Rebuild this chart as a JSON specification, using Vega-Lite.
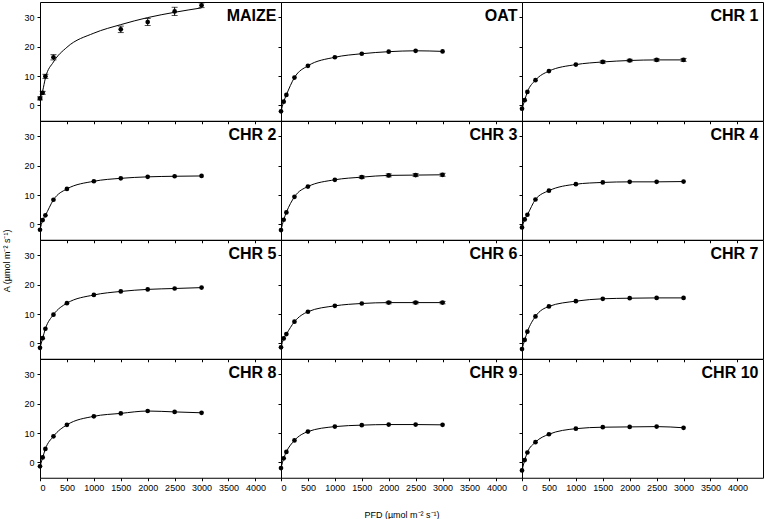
{
  "$schema": "https://vega.github.io/schema/vega-lite/v6.json",
  "padding": {"left": 3, "top": 1, "right": 0, "bottom": 0},
  "bounds": "flush",
  "spacing": 0,
  "columns": 3,
  "title": {"text": "A (µmol m⁻² s⁻¹)", "orient": "left", "anchor": "middle", "fontSize": 9, "fontWeight": "normal", "font": "Liberation Sans", "color": "black", "offset": 11},
  "datasets": {
    "d": [
      {"p": "MAIZE", "x": 0, "A": 2.4, "f": 2.0, "lo": 1.9, "hi": 2.9},
      {"p": "MAIZE", "x": 50, "A": 4.3, "f": 5.0, "lo": 3.8, "hi": 4.8},
      {"p": "MAIZE", "x": 100, "A": 9.9, "f": 9.3, "lo": 9.2, "hi": 10.6},
      {"p": "MAIZE", "x": 250, "A": 16.4, "f": 14.8, "lo": 15.5, "hi": 17.3},
      {"p": "MAIZE", "x": 500, "A": null, "f": 19.8},
      {"p": "MAIZE", "x": 1000, "A": null, "f": 24.6},
      {"p": "MAIZE", "x": 1500, "A": 25.9, "f": 27.5, "lo": 24.8, "hi": 27.0},
      {"p": "MAIZE", "x": 2000, "A": 28.4, "f": 29.9, "lo": 27.2, "hi": 29.6},
      {"p": "MAIZE", "x": 2500, "A": 32.0, "f": 31.7, "lo": 30.6, "hi": 33.4},
      {"p": "MAIZE", "x": 3000, "A": 34.1, "f": 33.2, "lo": 33.3, "hi": 34.9},

      {"p": "OAT", "x": 0, "A": -2.0}, {"p": "OAT", "x": 50, "A": 1.3}, {"p": "OAT", "x": 100, "A": 3.6},
      {"p": "OAT", "x": 250, "A": 9.5}, {"p": "OAT", "x": 500, "A": 13.5}, {"p": "OAT", "x": 1000, "A": 16.4},
      {"p": "OAT", "x": 1500, "A": 17.6}, {"p": "OAT", "x": 2000, "A": 18.3}, {"p": "OAT", "x": 2500, "A": 18.6},
      {"p": "OAT", "x": 3000, "A": 18.4},

      {"p": "CHR 1", "x": 0, "A": -1.1}, {"p": "CHR 1", "x": 50, "A": 1.8}, {"p": "CHR 1", "x": 100, "A": 4.6},
      {"p": "CHR 1", "x": 250, "A": 8.6}, {"p": "CHR 1", "x": 500, "A": 11.7}, {"p": "CHR 1", "x": 1000, "A": 13.9},
      {"p": "CHR 1", "x": 1500, "A": 14.8, "lo": 14.4, "hi": 15.2}, {"p": "CHR 1", "x": 2000, "A": 15.3, "lo": 14.9, "hi": 15.7},
      {"p": "CHR 1", "x": 2500, "A": 15.5, "lo": 15.1, "hi": 15.9}, {"p": "CHR 1", "x": 3000, "A": 15.5, "lo": 15.0, "hi": 16.0},

      {"p": "CHR 2", "x": 0, "A": -1.8}, {"p": "CHR 2", "x": 50, "A": 1.5}, {"p": "CHR 2", "x": 100, "A": 3.1},
      {"p": "CHR 2", "x": 250, "A": 8.4}, {"p": "CHR 2", "x": 500, "A": 12.1}, {"p": "CHR 2", "x": 1000, "A": 14.7},
      {"p": "CHR 2", "x": 1500, "A": 15.7}, {"p": "CHR 2", "x": 2000, "A": 16.2}, {"p": "CHR 2", "x": 2500, "A": 16.4},
      {"p": "CHR 2", "x": 3000, "A": 16.5},

      {"p": "CHR 3", "x": 0, "A": -1.9}, {"p": "CHR 3", "x": 50, "A": 1.6}, {"p": "CHR 3", "x": 100, "A": 4.1},
      {"p": "CHR 3", "x": 250, "A": 9.4}, {"p": "CHR 3", "x": 500, "A": 12.9}, {"p": "CHR 3", "x": 1000, "A": 15.2},
      {"p": "CHR 3", "x": 1500, "A": 16.1, "lo": 15.7, "hi": 16.5}, {"p": "CHR 3", "x": 2000, "A": 16.7, "lo": 16.2, "hi": 17.2},
      {"p": "CHR 3", "x": 2500, "A": 16.8, "lo": 16.3, "hi": 17.3}, {"p": "CHR 3", "x": 3000, "A": 16.9, "lo": 16.4, "hi": 17.4},

      {"p": "CHR 4", "x": 0, "A": -1.0}, {"p": "CHR 4", "x": 50, "A": 1.7}, {"p": "CHR 4", "x": 100, "A": 3.3},
      {"p": "CHR 4", "x": 250, "A": 8.5}, {"p": "CHR 4", "x": 500, "A": 11.5}, {"p": "CHR 4", "x": 1000, "A": 13.7},
      {"p": "CHR 4", "x": 1500, "A": 14.3}, {"p": "CHR 4", "x": 2000, "A": 14.5}, {"p": "CHR 4", "x": 2500, "A": 14.5},
      {"p": "CHR 4", "x": 3000, "A": 14.6},

      {"p": "CHR 5", "x": 0, "A": -1.5}, {"p": "CHR 5", "x": 50, "A": 1.8}, {"p": "CHR 5", "x": 100, "A": 5.0},
      {"p": "CHR 5", "x": 250, "A": 9.8}, {"p": "CHR 5", "x": 500, "A": 13.7}, {"p": "CHR 5", "x": 1000, "A": 16.5},
      {"p": "CHR 5", "x": 1500, "A": 17.7}, {"p": "CHR 5", "x": 2000, "A": 18.4}, {"p": "CHR 5", "x": 2500, "A": 18.7},
      {"p": "CHR 5", "x": 3000, "A": 19.0},

      {"p": "CHR 6", "x": 0, "A": -1.3}, {"p": "CHR 6", "x": 50, "A": 1.7}, {"p": "CHR 6", "x": 100, "A": 3.2},
      {"p": "CHR 6", "x": 250, "A": 7.4}, {"p": "CHR 6", "x": 500, "A": 10.8}, {"p": "CHR 6", "x": 1000, "A": 12.8},
      {"p": "CHR 6", "x": 1500, "A": 13.6}, {"p": "CHR 6", "x": 2000, "A": 13.9, "lo": 13.5, "hi": 14.3},
      {"p": "CHR 6", "x": 2500, "A": 13.9, "lo": 13.5, "hi": 14.3}, {"p": "CHR 6", "x": 3000, "A": 13.9, "lo": 13.5, "hi": 14.3},

      {"p": "CHR 7", "x": 0, "A": -1.9}, {"p": "CHR 7", "x": 50, "A": 1.2}, {"p": "CHR 7", "x": 100, "A": 4.0},
      {"p": "CHR 7", "x": 250, "A": 9.2}, {"p": "CHR 7", "x": 500, "A": 12.6}, {"p": "CHR 7", "x": 1000, "A": 14.4},
      {"p": "CHR 7", "x": 1500, "A": 15.2}, {"p": "CHR 7", "x": 2000, "A": 15.4}, {"p": "CHR 7", "x": 2500, "A": 15.5},
      {"p": "CHR 7", "x": 3000, "A": 15.5},

      {"p": "CHR 8", "x": 0, "A": -1.3}, {"p": "CHR 8", "x": 50, "A": 1.7}, {"p": "CHR 8", "x": 100, "A": 4.6},
      {"p": "CHR 8", "x": 250, "A": 8.9}, {"p": "CHR 8", "x": 500, "A": 12.8}, {"p": "CHR 8", "x": 1000, "A": 15.7},
      {"p": "CHR 8", "x": 1500, "A": 16.7}, {"p": "CHR 8", "x": 2000, "A": 17.5}, {"p": "CHR 8", "x": 2500, "A": 17.2},
      {"p": "CHR 8", "x": 3000, "A": 16.9},

      {"p": "CHR 9", "x": 0, "A": -1.9}, {"p": "CHR 9", "x": 50, "A": 1.4}, {"p": "CHR 9", "x": 100, "A": 3.6},
      {"p": "CHR 9", "x": 250, "A": 7.5}, {"p": "CHR 9", "x": 500, "A": 10.5}, {"p": "CHR 9", "x": 1000, "A": 12.2},
      {"p": "CHR 9", "x": 1500, "A": 12.7}, {"p": "CHR 9", "x": 2000, "A": 12.9}, {"p": "CHR 9", "x": 2500, "A": 12.9},
      {"p": "CHR 9", "x": 3000, "A": 12.8},

      {"p": "CHR 10", "x": 0, "A": -2.7}, {"p": "CHR 10", "x": 50, "A": 0.8}, {"p": "CHR 10", "x": 100, "A": 3.4},
      {"p": "CHR 10", "x": 250, "A": 6.9}, {"p": "CHR 10", "x": 500, "A": 9.6}, {"p": "CHR 10", "x": 1000, "A": 11.5},
      {"p": "CHR 10", "x": 1500, "A": 12.0}, {"p": "CHR 10", "x": 2000, "A": 12.1}, {"p": "CHR 10", "x": 2500, "A": 12.2},
      {"p": "CHR 10", "x": 3000, "A": 11.8}
    ]
  },
  "data": {"name": "d"},
  "concat": [
      {"width": 241, "height": 118.75, "transform": [{"filter": "datum.p == 'MAIZE'"}],
       "encoding": {"x": {"field": "x", "type": "quantitative", "scale": {"domain": [0, 4475], "nice": false}, "axis": {"values": [0,500,1000,1500,2000,2500,3000,3500,4000], "labels": false, "title": null}},
                    "y": {"field": "A", "type": "quantitative", "scale": {"domain": [-5.2, 35.2], "nice": false}, "axis": {"values": [0,10,20,30], "labels": true, "title": null}}},
       "layer": [
         {"mark": {"type": "line", "color": "black", "strokeWidth": 1, "interpolate": "monotone"}, "encoding": {"y": {"field": "f", "type": "quantitative"}}},
         {"transform": [{"filter": "isValid(datum.lo)"}], "mark": {"type": "rule", "color": "black", "strokeWidth": 1}, "encoding": {"y": {"field": "lo", "type": "quantitative"}, "y2": {"field": "hi"}}},
         {"transform": [{"filter": "isValid(datum.lo)"}], "mark": {"type": "tick", "orient": "horizontal", "color": "black", "size": 6, "thickness": 1}, "encoding": {"y": {"field": "lo", "type": "quantitative"}}},
         {"transform": [{"filter": "isValid(datum.lo)"}], "mark": {"type": "tick", "orient": "horizontal", "color": "black", "size": 6, "thickness": 1}, "encoding": {"y": {"field": "hi", "type": "quantitative"}}},
         {"mark": {"type": "point", "filled": true, "color": "black", "size": 22, "opacity": 1}},
         {"transform": [{"filter": "datum.x == 0"}], "mark": {"type": "text", "align": "right", "baseline": "middle", "fontWeight": "bold", "fontSize": 16, "font": "Liberation Sans", "color": "black"}, "encoding": {"x": {"datum": 4390}, "y": {"datum": 30.3}, "text": {"field": "p"}}}
       ]},
      {"width": 241, "height": 118.75, "transform": [{"filter": "datum.p == 'OAT'"}],
       "encoding": {"x": {"field": "x", "type": "quantitative", "scale": {"domain": [0, 4475], "nice": false}, "axis": {"values": [0,500,1000,1500,2000,2500,3000,3500,4000], "labels": false, "title": null}},
                    "y": {"field": "A", "type": "quantitative", "scale": {"domain": [-5.2, 35.2], "nice": false}, "axis": {"values": [0,10,20,30], "labels": false, "title": null}}},
       "layer": [
         {"mark": {"type": "line", "color": "black", "strokeWidth": 1, "interpolate": "monotone"}},
         {"mark": {"type": "point", "filled": true, "color": "black", "size": 22, "opacity": 1}},
         {"transform": [{"filter": "datum.x == 0"}], "mark": {"type": "text", "align": "right", "baseline": "middle", "fontWeight": "bold", "fontSize": 16, "font": "Liberation Sans", "color": "black"}, "encoding": {"x": {"datum": 4390}, "y": {"datum": 30.3}, "text": {"field": "p"}}}
       ]},
      {"width": 241, "height": 118.75, "transform": [{"filter": "datum.p == 'CHR 1'"}],
       "encoding": {"x": {"field": "x", "type": "quantitative", "scale": {"domain": [0, 4475], "nice": false}, "axis": {"values": [0,500,1000,1500,2000,2500,3000,3500,4000], "labels": false, "title": null}},
                    "y": {"field": "A", "type": "quantitative", "scale": {"domain": [-5.2, 35.2], "nice": false}, "axis": {"values": [0,10,20,30], "labels": false, "title": null}}},
       "layer": [
         {"mark": {"type": "line", "color": "black", "strokeWidth": 1, "interpolate": "monotone"}},
         {"transform": [{"filter": "isValid(datum.lo)"}], "mark": {"type": "rule", "color": "black", "strokeWidth": 1}, "encoding": {"y": {"field": "lo", "type": "quantitative"}, "y2": {"field": "hi"}}},
         {"transform": [{"filter": "isValid(datum.lo)"}], "mark": {"type": "tick", "orient": "horizontal", "color": "black", "size": 6, "thickness": 1}, "encoding": {"y": {"field": "lo", "type": "quantitative"}}},
         {"transform": [{"filter": "isValid(datum.lo)"}], "mark": {"type": "tick", "orient": "horizontal", "color": "black", "size": 6, "thickness": 1}, "encoding": {"y": {"field": "hi", "type": "quantitative"}}},
         {"mark": {"type": "point", "filled": true, "color": "black", "size": 22, "opacity": 1}},
         {"transform": [{"filter": "datum.x == 0"}], "mark": {"type": "text", "align": "right", "baseline": "middle", "fontWeight": "bold", "fontSize": 16, "font": "Liberation Sans", "color": "black"}, "encoding": {"x": {"datum": 4390}, "y": {"datum": 30.3}, "text": {"field": "p"}}}
       ]},
      {"width": 241, "height": 118.75, "transform": [{"filter": "datum.p == 'CHR 2'"}],
       "encoding": {"x": {"field": "x", "type": "quantitative", "scale": {"domain": [0, 4475], "nice": false}, "axis": {"values": [0,500,1000,1500,2000,2500,3000,3500,4000], "labels": false, "title": null}},
                    "y": {"field": "A", "type": "quantitative", "scale": {"domain": [-5.2, 35.2], "nice": false}, "axis": {"values": [0,10,20,30], "labels": true, "title": null}}},
       "layer": [
         {"mark": {"type": "line", "color": "black", "strokeWidth": 1, "interpolate": "monotone"}},
         {"mark": {"type": "point", "filled": true, "color": "black", "size": 22, "opacity": 1}},
         {"transform": [{"filter": "datum.x == 0"}], "mark": {"type": "text", "align": "right", "baseline": "middle", "fontWeight": "bold", "fontSize": 16, "font": "Liberation Sans", "color": "black"}, "encoding": {"x": {"datum": 4390}, "y": {"datum": 30.3}, "text": {"field": "p"}}}
       ]},
      {"width": 241, "height": 118.75, "transform": [{"filter": "datum.p == 'CHR 3'"}],
       "encoding": {"x": {"field": "x", "type": "quantitative", "scale": {"domain": [0, 4475], "nice": false}, "axis": {"values": [0,500,1000,1500,2000,2500,3000,3500,4000], "labels": false, "title": null}},
                    "y": {"field": "A", "type": "quantitative", "scale": {"domain": [-5.2, 35.2], "nice": false}, "axis": {"values": [0,10,20,30], "labels": false, "title": null}}},
       "layer": [
         {"mark": {"type": "line", "color": "black", "strokeWidth": 1, "interpolate": "monotone"}},
         {"transform": [{"filter": "isValid(datum.lo)"}], "mark": {"type": "rule", "color": "black", "strokeWidth": 1}, "encoding": {"y": {"field": "lo", "type": "quantitative"}, "y2": {"field": "hi"}}},
         {"transform": [{"filter": "isValid(datum.lo)"}], "mark": {"type": "tick", "orient": "horizontal", "color": "black", "size": 6, "thickness": 1}, "encoding": {"y": {"field": "lo", "type": "quantitative"}}},
         {"transform": [{"filter": "isValid(datum.lo)"}], "mark": {"type": "tick", "orient": "horizontal", "color": "black", "size": 6, "thickness": 1}, "encoding": {"y": {"field": "hi", "type": "quantitative"}}},
         {"mark": {"type": "point", "filled": true, "color": "black", "size": 22, "opacity": 1}},
         {"transform": [{"filter": "datum.x == 0"}], "mark": {"type": "text", "align": "right", "baseline": "middle", "fontWeight": "bold", "fontSize": 16, "font": "Liberation Sans", "color": "black"}, "encoding": {"x": {"datum": 4390}, "y": {"datum": 30.3}, "text": {"field": "p"}}}
       ]},
      {"width": 241, "height": 118.75, "transform": [{"filter": "datum.p == 'CHR 4'"}],
       "encoding": {"x": {"field": "x", "type": "quantitative", "scale": {"domain": [0, 4475], "nice": false}, "axis": {"values": [0,500,1000,1500,2000,2500,3000,3500,4000], "labels": false, "title": null}},
                    "y": {"field": "A", "type": "quantitative", "scale": {"domain": [-5.2, 35.2], "nice": false}, "axis": {"values": [0,10,20,30], "labels": false, "title": null}}},
       "layer": [
         {"mark": {"type": "line", "color": "black", "strokeWidth": 1, "interpolate": "monotone"}},
         {"mark": {"type": "point", "filled": true, "color": "black", "size": 22, "opacity": 1}},
         {"transform": [{"filter": "datum.x == 0"}], "mark": {"type": "text", "align": "right", "baseline": "middle", "fontWeight": "bold", "fontSize": 16, "font": "Liberation Sans", "color": "black"}, "encoding": {"x": {"datum": 4390}, "y": {"datum": 30.3}, "text": {"field": "p"}}}
       ]},
      {"width": 241, "height": 118.75, "transform": [{"filter": "datum.p == 'CHR 5'"}],
       "encoding": {"x": {"field": "x", "type": "quantitative", "scale": {"domain": [0, 4475], "nice": false}, "axis": {"values": [0,500,1000,1500,2000,2500,3000,3500,4000], "labels": false, "title": null}},
                    "y": {"field": "A", "type": "quantitative", "scale": {"domain": [-5.2, 35.2], "nice": false}, "axis": {"values": [0,10,20,30], "labels": true, "title": null}}},
       "layer": [
         {"mark": {"type": "line", "color": "black", "strokeWidth": 1, "interpolate": "monotone"}},
         {"mark": {"type": "point", "filled": true, "color": "black", "size": 22, "opacity": 1}},
         {"transform": [{"filter": "datum.x == 0"}], "mark": {"type": "text", "align": "right", "baseline": "middle", "fontWeight": "bold", "fontSize": 16, "font": "Liberation Sans", "color": "black"}, "encoding": {"x": {"datum": 4390}, "y": {"datum": 30.3}, "text": {"field": "p"}}}
       ]},
      {"width": 241, "height": 118.75, "transform": [{"filter": "datum.p == 'CHR 6'"}],
       "encoding": {"x": {"field": "x", "type": "quantitative", "scale": {"domain": [0, 4475], "nice": false}, "axis": {"values": [0,500,1000,1500,2000,2500,3000,3500,4000], "labels": false, "title": null}},
                    "y": {"field": "A", "type": "quantitative", "scale": {"domain": [-5.2, 35.2], "nice": false}, "axis": {"values": [0,10,20,30], "labels": false, "title": null}}},
       "layer": [
         {"mark": {"type": "line", "color": "black", "strokeWidth": 1, "interpolate": "monotone"}},
         {"transform": [{"filter": "isValid(datum.lo)"}], "mark": {"type": "rule", "color": "black", "strokeWidth": 1}, "encoding": {"y": {"field": "lo", "type": "quantitative"}, "y2": {"field": "hi"}}},
         {"transform": [{"filter": "isValid(datum.lo)"}], "mark": {"type": "tick", "orient": "horizontal", "color": "black", "size": 6, "thickness": 1}, "encoding": {"y": {"field": "lo", "type": "quantitative"}}},
         {"transform": [{"filter": "isValid(datum.lo)"}], "mark": {"type": "tick", "orient": "horizontal", "color": "black", "size": 6, "thickness": 1}, "encoding": {"y": {"field": "hi", "type": "quantitative"}}},
         {"mark": {"type": "point", "filled": true, "color": "black", "size": 22, "opacity": 1}},
         {"transform": [{"filter": "datum.x == 0"}], "mark": {"type": "text", "align": "right", "baseline": "middle", "fontWeight": "bold", "fontSize": 16, "font": "Liberation Sans", "color": "black"}, "encoding": {"x": {"datum": 4390}, "y": {"datum": 30.3}, "text": {"field": "p"}}}
       ]},
      {"width": 241, "height": 118.75, "transform": [{"filter": "datum.p == 'CHR 7'"}],
       "encoding": {"x": {"field": "x", "type": "quantitative", "scale": {"domain": [0, 4475], "nice": false}, "axis": {"values": [0,500,1000,1500,2000,2500,3000,3500,4000], "labels": false, "title": null}},
                    "y": {"field": "A", "type": "quantitative", "scale": {"domain": [-5.2, 35.2], "nice": false}, "axis": {"values": [0,10,20,30], "labels": false, "title": null}}},
       "layer": [
         {"mark": {"type": "line", "color": "black", "strokeWidth": 1, "interpolate": "monotone"}},
         {"mark": {"type": "point", "filled": true, "color": "black", "size": 22, "opacity": 1}},
         {"transform": [{"filter": "datum.x == 0"}], "mark": {"type": "text", "align": "right", "baseline": "middle", "fontWeight": "bold", "fontSize": 16, "font": "Liberation Sans", "color": "black"}, "encoding": {"x": {"datum": 4390}, "y": {"datum": 30.3}, "text": {"field": "p"}}}
       ]},
      {"width": 241, "height": 118.75, "transform": [{"filter": "datum.p == 'CHR 8'"}],
       "encoding": {"x": {"field": "x", "type": "quantitative", "scale": {"domain": [0, 4475], "nice": false}, "axis": {"values": [0,500,1000,1500,2000,2500,3000,3500,4000], "labels": true, "title": null}},
                    "y": {"field": "A", "type": "quantitative", "scale": {"domain": [-5.2, 35.2], "nice": false}, "axis": {"values": [0,10,20,30], "labels": true, "title": null}}},
       "layer": [
         {"mark": {"type": "line", "color": "black", "strokeWidth": 1, "interpolate": "monotone"}},
         {"mark": {"type": "point", "filled": true, "color": "black", "size": 22, "opacity": 1}},
         {"transform": [{"filter": "datum.x == 0"}], "mark": {"type": "text", "align": "right", "baseline": "middle", "fontWeight": "bold", "fontSize": 16, "font": "Liberation Sans", "color": "black"}, "encoding": {"x": {"datum": 4390}, "y": {"datum": 30.3}, "text": {"field": "p"}}}
       ]},
      {"width": 241, "height": 118.75, "transform": [{"filter": "datum.p == 'CHR 9'"}],
       "encoding": {"x": {"field": "x", "type": "quantitative", "scale": {"domain": [0, 4475], "nice": false}, "axis": {"values": [0,500,1000,1500,2000,2500,3000,3500,4000], "labels": true, "title": "PFD (µmol m⁻² s⁻¹)", "titlePadding": 18}},
                    "y": {"field": "A", "type": "quantitative", "scale": {"domain": [-5.2, 35.2], "nice": false}, "axis": {"values": [0,10,20,30], "labels": false, "title": null}}},
       "layer": [
         {"mark": {"type": "line", "color": "black", "strokeWidth": 1, "interpolate": "monotone"}},
         {"mark": {"type": "point", "filled": true, "color": "black", "size": 22, "opacity": 1}},
         {"transform": [{"filter": "datum.x == 0"}], "mark": {"type": "text", "align": "right", "baseline": "middle", "fontWeight": "bold", "fontSize": 16, "font": "Liberation Sans", "color": "black"}, "encoding": {"x": {"datum": 4390}, "y": {"datum": 30.3}, "text": {"field": "p"}}}
       ]},
      {"width": 241, "height": 118.75, "transform": [{"filter": "datum.p == 'CHR 10'"}],
       "encoding": {"x": {"field": "x", "type": "quantitative", "scale": {"domain": [0, 4475], "nice": false}, "axis": {"values": [0,500,1000,1500,2000,2500,3000,3500,4000], "labels": true, "title": null}},
                    "y": {"field": "A", "type": "quantitative", "scale": {"domain": [-5.2, 35.2], "nice": false}, "axis": {"values": [0,10,20,30], "labels": false, "title": null}}},
       "layer": [
         {"mark": {"type": "line", "color": "black", "strokeWidth": 1, "interpolate": "monotone"}},
         {"mark": {"type": "point", "filled": true, "color": "black", "size": 22, "opacity": 1}},
         {"transform": [{"filter": "datum.x == 0"}], "mark": {"type": "text", "align": "right", "baseline": "middle", "fontWeight": "bold", "fontSize": 16, "font": "Liberation Sans", "color": "black"}, "encoding": {"x": {"datum": 4390}, "y": {"datum": 30.3}, "text": {"field": "p"}}}
       ]}
  ],
  "resolve": {"scale": {"x": "independent", "y": "independent"}},
  "config": {
    "view": {"stroke": "black", "strokeWidth": 1},
    "concat": {"spacing": 0},
    "axis": {"domain": false, "grid": false, "ticks": true, "tickSize": 3, "tickColor": "black", "tickWidth": 1, "format": "d",
             "labelFont": "Liberation Sans", "labelFontSize": 9, "labelColor": "black", "labelPadding": 3,
             "titleFont": "Liberation Sans", "titleFontSize": 9, "titleFontWeight": "normal", "titleColor": "black"}
  }
}
